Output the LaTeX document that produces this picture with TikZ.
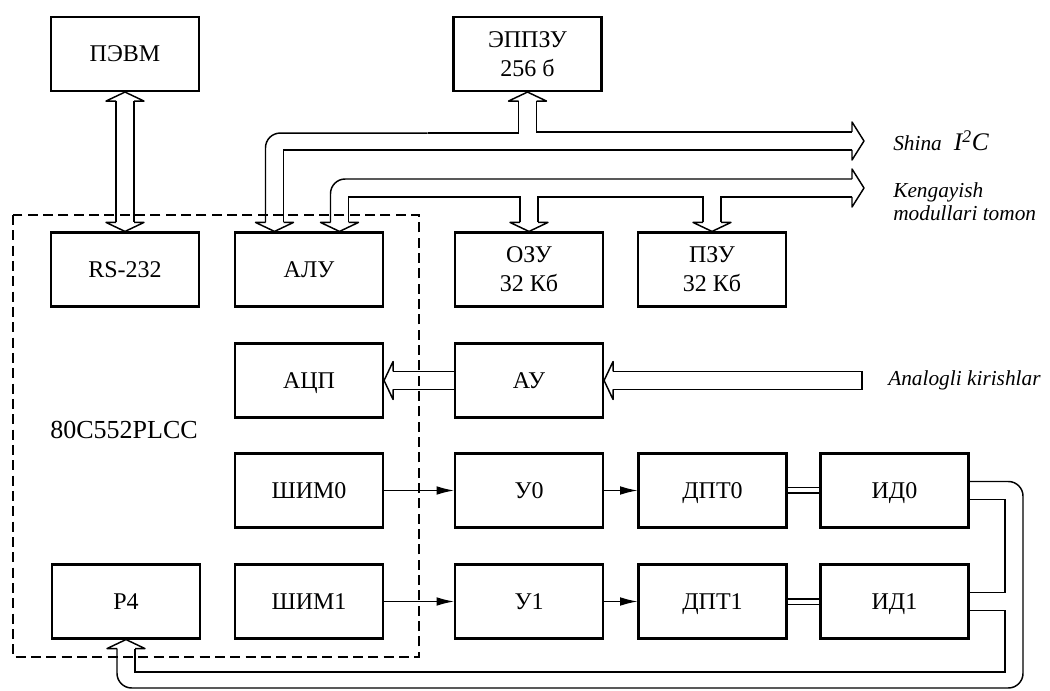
\documentclass[tikz,border=0pt]{standalone}
\usepackage{fontspec}
\setmainfont{Liberation Serif}
\usetikzlibrary{calc,arrows.meta}
\tikzset{
  blk/.style={draw,line width=1.6pt,minimum width=111pt,minimum height=55.5pt,inner sep=0pt,align=center,font=\fontsize{18}{21.75}\selectfont},
  blk1/.style={blk,text height=12pt,text depth=0pt},
  conn/.style={line width=1.1pt},
  sarrow/.style={line width=0.9pt,-{Latex[length=13pt,width=6.5pt]}},
  dline/.style={double,double distance=3pt,line width=0.8pt},
  lbl/.style={font=\fontsize{16}{17}\selectfont\itshape,anchor=west,inner sep=0pt,align=left},
  dashbox/.style={line width=1.2pt,dash pattern=on 7.5pt off 4pt},
  hdown/.pic={\draw[conn,line join=round] (-9,-9) -- (-19,-9) -- (0,0) -- (19,-9) -- (9,-9);},
  hup/.pic={\draw[conn,line join=round] (-9,9) -- (-19,9) -- (0,0) -- (19,9) -- (9,9);},
  hleft/.pic={\draw[conn,line join=round] (9,-9) -- (9,-19) -- (0,0) -- (9,19) -- (9,9);},
  hright/.pic={\draw[conn,line join=round] (-12,-9) -- (-12,-19) -- (0,0) -- (-12,19) -- (-12,9);}
}
\begin{document}
\begin{tikzpicture}[x=0.75pt,y=-0.75pt]
\useasboundingbox (0,0) rectangle (1050,691);
% blocks
\node[blk1] (pevm) at (125,54) {ПЭВМ};
\node[blk] (eppzu) at (527.5,54) {ЭППЗУ\\256 б};
\node[blk1] (rs) at (125,269.5) {RS-232};
\node[blk1] (alu) at (309,269.5) {АЛУ};
\node[blk] (ozu) at (529,269.5) {ОЗУ\\32 Кб};
\node[blk] (pzu) at (712,269.5) {ПЗУ\\32 Кб};
\node[blk1] (acp) at (309,380.5) {АЦП};
\node[blk1] (au) at (529,380.5) {АУ};
\node[blk1] (shim0) at (309,490.5) {ШИМ0};
\node[blk1] (u0) at (529,490.5) {У0};
\node[blk1] (dpt0) at (712.5,490.5) {ДПТ0};
\node[blk1] (id0) at (894.5,490.5) {ИД0};
\node[blk1] (p4) at (126,601.5) {P4};
\node[blk1] (shim1) at (309,601.5) {ШИМ1};
\node[blk1] (u1) at (529,601.5) {У1};
\node[blk1] (dpt1) at (712.5,601.5) {ДПТ1};
\node[blk1] (id1) at (894.5,601.5) {ИД1};
% chip boundary
\draw[dashbox] (13,215) rectangle (419,657);
\node[font=\fontsize{19.5}{20}\selectfont] (chip) at (124,430) {80C552PLCC};
% free ends and corners
\coordinate (i2c) at (864,141);
\coordinate (exp) at (864,188);
\coordinate (ain) at (862,380.5);
\coordinate (fbo) at (1023,688);
\coordinate (fbi) at (1005,545);
\coordinate (fbi2) at (1005,672);
% PC <-> RS-232
\draw[conn] ($(pevm.south)+(-9,9)$) -- ($(rs.north)+(-9,-9)$);
\draw[conn] ($(pevm.south)+(9,9)$) -- ($(rs.north)+(9,-9)$);
\pic at (pevm.south) {hup};
\pic at (rs.north) {hdown};
% I2C bus
\draw[conn,rounded corners=11pt] ($(alu.north)+(-43.5,-9)$) |- ($(eppzu.south)+(-100,41)$);
\draw[conn] ($(eppzu.south)+(-100,41)$) -| ($(eppzu.south)+(-9,9)$);
\draw[conn] ($(eppzu.south)+(9,9)$) |- ($(i2c)+(-12,-9)$);
\draw[conn] ($(alu.north)+(-25.5,-9)$) |- ($(i2c)+(-12,9)$);
\pic at ($(alu.north)+(-34.5,0)$) {hdown};
\pic at (eppzu.south) {hup};
\pic at (i2c) {hright};
% expansion bus
\draw[conn,rounded corners=11pt] ($(alu.north)+(21.5,-9)$) |- ($(exp)+(-12,-9)$);
\draw[conn] ($(alu.north)+(39.5,-9)$) |- ($(exp)+(-400,9)$) -| ($(ozu.north)+(-9,-9)$);
\draw[conn] ($(ozu.north)+(9,-9)$) |- ($(exp)+(-250,9)$) -| ($(pzu.north)+(-9,-9)$);
\draw[conn] ($(pzu.north)+(9,-9)$) |- ($(exp)+(-12,9)$);
\pic at ($(alu.north)+(30.5,0)$) {hdown};
\pic at (ozu.north) {hdown};
\pic at (pzu.north) {hdown};
\pic at (exp) {hright};
% analog path
\draw[conn] ($(au.west)+(0,-9)$) -- ($(acp.east)+(9,-9)$);
\draw[conn] ($(au.west)+(0,9)$) -- ($(acp.east)+(9,9)$);
\pic at (acp.east) {hleft};
\draw[conn] ($(au.east)+(9,-9)$) -- ($(ain)+(0,-9)$) -- ($(ain)+(0,9)$) -- ($(au.east)+(9,9)$);
\pic at (au.east) {hleft};
% PWM chains
\draw[sarrow] (shim0) -- (u0);
\draw[sarrow] (u0) -- (dpt0);
\draw[dline] (dpt0) -- (id0);
\draw[sarrow] (shim1) -- (u1);
\draw[sarrow] (u1) -- (dpt1);
\draw[dline] (dpt1) -- (id1);
% feedback
\draw[conn,rounded corners=11pt] ($(id0.east)+(0,-9)$) -| (fbo) -| ($(p4.south)+(-9,9)$);
\draw[conn] ($(id0.east)+(0,9)$) -| (fbi) |- ($(id1.east)+(0,-9)$);
\draw[conn] ($(id1.east)+(0,9)$) -| (fbi2) -| ($(p4.south)+(9,9)$);
\pic at (p4.south) {hup};
% labels
\node[lbl] (lbi2c) at (893,141) {Shina\hspace{9pt}{\fontsize{19}{20}\selectfont I\textsuperscript{2}C}};
\node[lbl] (lbexp) at (893,202) {Kengayish\\modullari tomon};
\node[lbl] (lbain) at (888,380) {Analogli kirishlar};
\end{tikzpicture}
\end{document}
